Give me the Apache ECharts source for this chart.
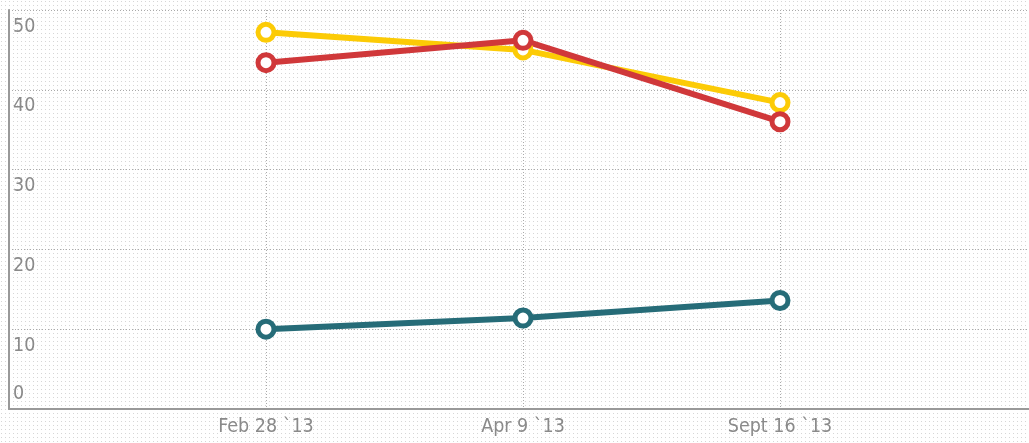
<!DOCTYPE html>
<html><head><meta charset="utf-8">
<script src="https://cdn.jsdelivr.net/npm/echarts@6/dist/echarts.min.js"></script>
<style>html,body{margin:0;padding:0;background:#fff}#c{width:1029px;height:443px}</style>
</head><body><div id="c"></div>
<script>
const categories = ['Feb 28 `13', 'Apr 9 `13', 'Sept 16 `13'];
const yellowValues = [47.2, 45.0, 38.4];
const redValues = [43.4, 46.2, 36.0];
const tealValues = [10.0, 11.4, 13.6];
const yTicks = [0, 10, 20, 30, 40, 50];

const FONT = "'Liberation Sans Narrow', 'DejaVu Sans Condensed', sans-serif";
const pad = arr => [null].concat(arr, [null]);
const xCats = [''].concat(categories, ['']);

const pc = document.createElement('canvas');
pc.width = 4; pc.height = 4;
const g = pc.getContext('2d');
g.fillStyle = '#ffffff'; g.fillRect(0, 0, 4, 4);
g.fillStyle = '#d6d6d6'; g.fillRect(1, 1, 1, 1);

function mkSeries(name, data, color) {
  return {
    name, type: 'line', data: pad(data),
    symbol: 'circle', symbolSize: 16, showAllSymbol: true,
    lineStyle: { color, width: 6 },
    itemStyle: { color: '#fff', borderColor: color, borderWidth: 5 },
    emphasis: { disabled: true }, animation: false, z: 3
  };
}

const chart = echarts.init(document.getElementById('c'), null, { renderer: 'canvas' });
chart.setOption({
  backgroundColor: { image: pc, repeat: 'repeat' },
  animation: false,
  grid: { left: 9, right: -8, top: 10, bottom: 34, containLabel: false, outerBoundsMode: 'none' },
  xAxis: {
    type: 'category', data: xCats, boundaryGap: false,
    axisLine: { lineStyle: { color: '#999', width: 2 } },
    axisTick: { show: false },
    axisLabel: { color: '#8a8a8a', fontFamily: FONT, fontSize: 19.5, margin: 8, interval: 0 },
    splitLine: { show: true, lineStyle: { color: '#aaa', width: 1, type: [1, 2] } }
  },
  yAxis: {
    type: 'value', min: yTicks[0], max: yTicks[yTicks.length - 1], interval: 10,
    axisLine: { show: true, lineStyle: { color: '#999', width: 2 } },
    axisTick: { show: false },
    axisLabel: {
      inside: true, margin: 4, color: '#8a8a8a', fontFamily: FONT, fontSize: 19.5,
      formatter: v => v === 0 ? '{up|' + v + '}' : '{dn|' + v + '}',
      rich: {
        up: { fontFamily: FONT, fontSize: 19.5, color: '#8a8a8a', lineHeight: 16, padding: [0, 0, 31, 0] },
        dn: { fontFamily: FONT, fontSize: 19.5, color: '#8a8a8a', lineHeight: 16, padding: [33, 0, 0, 0] }
      }
    },
    splitLine: { show: true, lineStyle: { color: '#aaa', width: 1, type: [1, 2] } }
  },
  series: [
    mkSeries('Yellow', yellowValues, '#fccb06'),
    mkSeries('Red', redValues, '#d0383a'),
    mkSeries('Teal', tealValues, '#266c78')
  ]
});
</script></body></html>
